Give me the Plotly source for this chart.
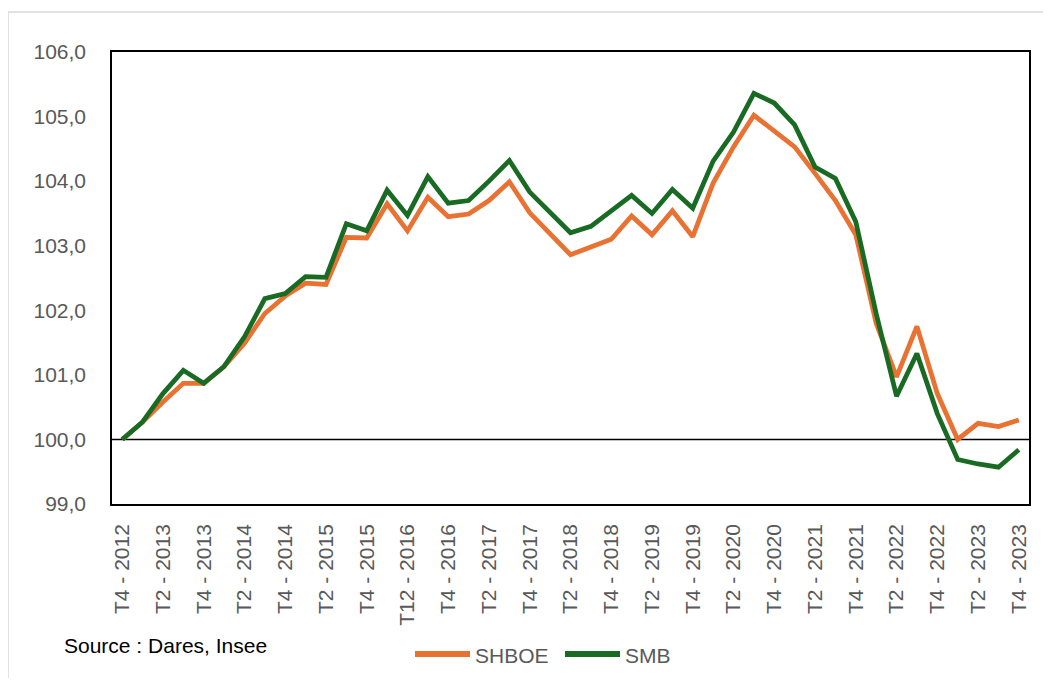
import plotly.graph_objects as go

# Quarters T4 2012 .. T4 2023
quarters = ["T4 - 2012"] + [f"T{q} - {y}" for y in range(2013, 2024) for q in (1, 2, 3, 4)]

shboe = [100.0, 100.27, 100.58, 100.87, 100.87, 101.13, 101.49, 101.95, 102.22, 102.42,
         102.40, 103.13, 103.12, 103.65, 103.23, 103.75, 103.45, 103.49, 103.70, 103.99,
         103.51, 103.18, 102.86, 102.98, 103.10, 103.46, 103.17, 103.54, 103.14, 103.97,
         104.53, 105.02, 104.78, 104.53, 104.12, 103.70, 103.17, 101.80, 100.97, 101.75,
         100.71, 100.00, 100.25, 100.20, 100.30]

smb = [100.0, 100.27, 100.71, 101.07, 100.87, 101.13, 101.59, 102.18, 102.26, 102.52,
       102.51, 103.34, 103.23, 103.86, 103.47, 104.07, 103.66, 103.70, 104.00, 104.32,
       103.83, 103.51, 103.20, 103.30, 103.54, 103.78, 103.50, 103.87, 103.58, 104.31,
       104.76, 105.36, 105.21, 104.87, 104.22, 104.04, 103.37, 101.95, 100.67, 101.33,
       100.40, 99.69, 99.62, 99.57, 99.84]

tick_text = ["T4 - 2012", "T2 - 2013", "T4 - 2013", "T2 - 2014", "T4 - 2014", "T2 - 2015",
             "T4 - 2015", "T12 - 2016", "T4 - 2016", "T2 - 2017", "T4 - 2017", "T2 - 2018",
             "T4 - 2018", "T2 - 2019", "T4 - 2019", "T2 - 2020", "T4 - 2020", "T2 - 2021",
             "T4 - 2021", "T2 - 2022", "T4 - 2022", "T2 - 2023", "T4 - 2023"]
tick_vals = quarters[::2]

y_ticks = [99, 100, 101, 102, 103, 104, 105, 106]

series_names = ["SHBOE", "SMB"]
series_colors = ["#E97132", "#196B24"]

FONT = "Liberation Sans"
GRAY = "#595959"
FS = 21

# plot area in page pixels (page body has an 8px margin)
PX0, PX1, PY0, PY1 = 112, 1029, 52, 504
PW, PH = PX1 - PX0, PY1 - PY0


def px(x):
    return (x - PX0) / PW


def py(y):
    return (PY1 - y) / PH


fig = go.Figure()
for name, vals, col in zip(series_names, [shboe, smb], series_colors):
    fig.add_trace(go.Scatter(x=quarters, y=vals, mode="lines", name=name,
                             line=dict(color=col, width=4.75), showlegend=False))

# custom legend (long swatches like the original)
legend_shapes = []
legend_annots = []
legend_pos = [(415, 470), (565, 620)]
for name, col, (x0, x1) in zip(series_names, series_colors, legend_pos):
    legend_shapes.append(dict(type="line", xref="paper", yref="paper",
                              x0=px(x0), x1=px(x1), y0=py(654), y1=py(654),
                              line=dict(color=col, width=6)))
    legend_annots.append(dict(text=name, xref="paper", yref="paper",
                              x=px(x1 + 3), y=py(655), xanchor="left", yanchor="middle",
                              showarrow=False, font=dict(family=FONT, size=FS, color=GRAY)))

fig.update_layout(
    width=1043, height=670,
    margin=dict(l=PX0 - 8, r=1043 - (PX1 - 8), t=PY0 - 8, b=670 - (PY1 - 8)),
    paper_bgcolor="white", plot_bgcolor="white",
    font=dict(family=FONT, size=FS, color=GRAY),
    separators=", ",
    showlegend=False,
    xaxis=dict(type="category", categoryorder="array", categoryarray=quarters,
               range=[-0.5, len(quarters) - 0.5],
               tickmode="array", tickvals=tick_vals, ticktext=tick_text,
               tickangle=-90, showgrid=False, zeroline=False,
               showline=True, linecolor="black", linewidth=1.5, mirror=True,
               ticks="", ticklabelstandoff=10, tickfont=dict(size=FS, color=GRAY)),
    yaxis=dict(range=[99, 106], tickmode="array", tickvals=y_ticks, tickformat=".1f",
               showgrid=False, zeroline=False,
               showline=True, linecolor="black", linewidth=1.5, mirror=True,
               ticks="", ticklabelstandoff=20,
               tickfont=dict(size=FS, color=GRAY)),
    shapes=[
        dict(type="line", xref="paper", yref="y", x0=0, x1=1, y0=100, y1=100,
             line=dict(color="black", width=1.5), layer="below"),
        dict(type="rect", xref="paper", yref="paper",
             x0=px(8), x1=px(1070), y0=py(700), y1=py(12),
             line=dict(color="#D9D9D9", width=1.5), fillcolor="rgba(0,0,0,0)", layer="below"),
    ] + legend_shapes,
    annotations=[
        dict(text="Source : Dares, Insee", xref="paper", yref="paper",
             x=px(62), y=py(645), xanchor="left", yanchor="middle",
             showarrow=False, font=dict(family=FONT, size=FS, color="black")),
    ] + legend_annots,
)

fig.write_html("out.html")
